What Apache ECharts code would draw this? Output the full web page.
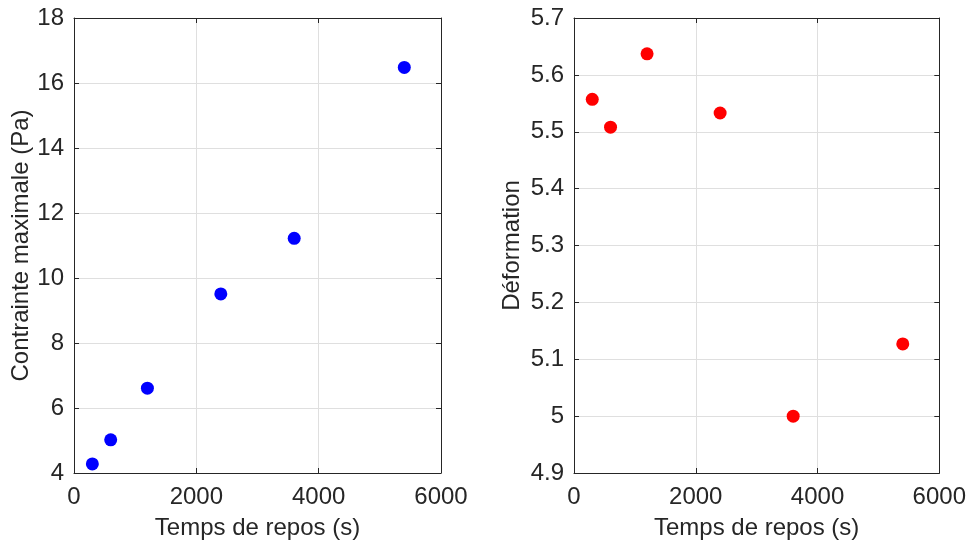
<!DOCTYPE html>
<html>
<head>
<meta charset="utf-8">
<script src="https://cdn.jsdelivr.net/npm/echarts@6/dist/echarts.min.js"></script>
<style>
  html, body { margin: 0; padding: 0; background: #fff; }
  #chart { width: 969px; height: 547px; }
</style>
</head>
<body>
<div id="chart"></div>
<script>
// temps de repos (s)
var restTimes = [300, 600, 1200, 2400, 3600, 5400];
// contrainte maximale (Pa)
var maxStress = [4.28, 5.02, 6.61, 9.51, 11.22, 16.48];
// deformation
var strain = [5.557, 5.508, 5.637, 5.533, 5.0, 5.127];

var xTicks = [0, 2000, 4000, 6000];
var leftYTicks = [4, 6, 8, 10, 12, 14, 16, 18];
var rightYTicks = [4.9, 5.0, 5.1, 5.2, 5.3, 5.4, 5.5, 5.6, 5.7];

function pairs(xs, ys) {
    var out = [];
    for (var i = 0; i < xs.length; i++) out.push([xs[i], ys[i]]);
    return out;
}

var textColor = '#262626';
var fontFamily = 'Liberation Sans, Arial, sans-serif';
var fontSize = 24;

function mainX(gridIndex) {
    return {
        type: 'value', gridIndex: gridIndex,
        min: xTicks[0], max: xTicks[xTicks.length - 1], interval: xTicks[1] - xTicks[0],
        position: 'bottom',
        name: 'Temps de repos (s)', nameLocation: 'middle', nameGap: 43,
        nameTextStyle: { color: textColor, fontSize: fontSize, fontFamily: fontFamily },
        axisLine: { show: true, lineStyle: { color: textColor, width: 1 } },
        axisTick: { show: true, inside: true, length: 5, lineStyle: { color: textColor } },
        axisLabel: {
            color: textColor, fontSize: fontSize, fontFamily: fontFamily, margin: 12,
            formatter: function (v) { return String(v); }
        },
        splitLine: { show: true, lineStyle: { color: '#dfdfdf', width: 1 } }
    };
}
function topX(gridIndex) {
    return {
        type: 'value', gridIndex: gridIndex,
        min: xTicks[0], max: xTicks[xTicks.length - 1], interval: xTicks[1] - xTicks[0],
        position: 'top',
        axisLine: { show: true, onZero: false, lineStyle: { color: textColor, width: 1 } },
        axisTick: { show: true, inside: true, length: 5, lineStyle: { color: textColor } },
        axisLabel: { show: false },
        splitLine: { show: false }
    };
}
function mainY(gridIndex, ticks, name, gap, decimals) {
    return {
        type: 'value', gridIndex: gridIndex,
        min: ticks[0], max: ticks[ticks.length - 1],
        interval: +(ticks[1] - ticks[0]).toFixed(3),
        position: 'left',
        name: name, nameLocation: 'middle', nameGap: gap,
        nameTextStyle: { color: textColor, fontSize: fontSize, fontFamily: fontFamily },
        axisLine: { show: true, onZero: false, lineStyle: { color: textColor, width: 1 } },
        axisTick: { show: true, inside: true, length: 5, lineStyle: { color: textColor } },
        axisLabel: {
            color: textColor, fontSize: fontSize, fontFamily: fontFamily, margin: 10,
            formatter: function (v) {
                var s = (+v).toFixed(decimals);
                if (decimals > 0 && s.slice(-2) === '.0') s = s.slice(0, -2);
                return s;
            }
        },
        splitLine: { show: true, lineStyle: { color: '#dfdfdf', width: 1 } }
    };
}
function rightY(gridIndex, ticks) {
    return {
        type: 'value', gridIndex: gridIndex,
        min: ticks[0], max: ticks[ticks.length - 1],
        interval: +(ticks[1] - ticks[0]).toFixed(3),
        position: 'right',
        axisLine: { show: true, onZero: false, lineStyle: { color: textColor, width: 1 } },
        axisTick: { show: true, inside: true, length: 5, lineStyle: { color: textColor } },
        axisLabel: { show: false },
        splitLine: { show: false }
    };
}

var myChart = echarts.init(document.getElementById('chart'));
var option = {
    backgroundColor: '#ffffff',
    animation: false,
    grid: [
        { left: 74, top: 18, width: 367, height: 455 },
        { left: 574, top: 18, width: 368, height: 455 }
    ],
    xAxis: [mainX(0), topX(0), mainX(1), topX(1)],
    yAxis: [
        mainY(0, leftYTicks, 'Contrainte maximale (Pa)', 40, 0),
        rightY(0, leftYTicks),
        mainY(1, rightYTicks, 'Déformation', 50, 1),
        rightY(1, rightYTicks)
    ],
    series: [
        {
            type: 'scatter', xAxisIndex: 0, yAxisIndex: 0,
            symbolSize: 13, itemStyle: { color: '#0000ff', opacity: 1 },
            data: pairs(restTimes, maxStress)
        },
        {
            type: 'scatter', xAxisIndex: 2, yAxisIndex: 2,
            symbolSize: 13, itemStyle: { color: '#ff0000', opacity: 1 },
            data: pairs(restTimes, strain)
        }
    ]
};
myChart.setOption(option);
</script>
</body>
</html>
